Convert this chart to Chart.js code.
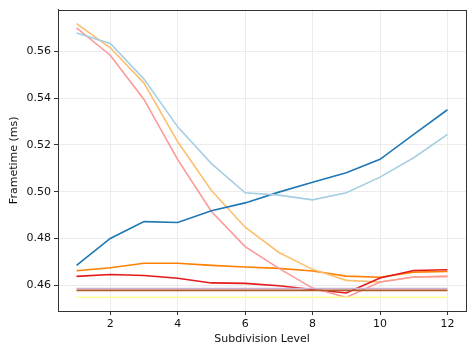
<!DOCTYPE html>
<html>
<head>
<meta charset="utf-8">
<script src="https://cdn.jsdelivr.net/npm/chart.js@4/dist/chart.umd.min.js"></script>
<style>
    html, body { margin: 0; padding: 0; background: #fff; }
    #wrap { width: 467px; height: 346px; }
</style>
</head>
<body>
<div id="wrap"><canvas id="frameChart"></canvas></div>
<script>
// ============= dados ======================================
const levels = [1, 2, 3, 4, 5, 6, 7, 8, 9, 10, 11, 12]
const xTicks = [2, 4, 6, 8, 10, 12]
const yTicks = [0.46, 0.48, 0.50, 0.52, 0.54, 0.56]

const lightBlue = [0.5678, 0.5633, 0.5481, 0.5277, 0.5120, 0.4995, 0.4985, 0.4965, 0.4995, 0.5062, 0.5145, 0.5245]
const blue = [0.4685, 0.4800, 0.4872, 0.4868, 0.4918, 0.4952, 0.4998, 0.5040, 0.5081, 0.5138, 0.5245, 0.5350]
const pink = [0.5700, 0.5583, 0.5394, 0.5137, 0.4915, 0.4765, 0.4672, 0.4588, 0.4548, 0.4614, 0.4635, 0.4638]
const red = [0.4638, 0.4646, 0.4642, 0.4630, 0.4610, 0.4608, 0.4598, 0.4582, 0.4567, 0.4631, 0.4663, 0.4666]
const lightOrange = [0.5718, 0.5615, 0.5464, 0.5213, 0.5005, 0.4848, 0.4740, 0.4668, 0.4621, 0.4614, 0.4635, 0.4638]
const orange = [0.4662, 0.4675, 0.4694, 0.4694, 0.4685, 0.4678, 0.4672, 0.4661, 0.4639, 0.4634, 0.4656, 0.4659]
const lavender = [0.4586, 0.4586, 0.4586, 0.4586, 0.4586, 0.4586, 0.4586, 0.4586, 0.4586, 0.4586, 0.4586, 0.4586]
const brown = [0.4578, 0.4578, 0.4578, 0.4578, 0.4578, 0.4578, 0.4578, 0.4578, 0.4578, 0.4578, 0.4578, 0.4578]
const yellow = [0.4549, 0.4549, 0.4549, 0.4549, 0.4549, 0.4549, 0.4549, 0.4549, 0.4549, 0.4549, 0.4549, 0.4549]

const series = [
    { data: yellow, color: '#ffff99' },
    { data: brown, color: '#b15928' },
    { data: lavender, color: '#cab2d6' },
    { data: lightBlue, color: '#a6cee3' },
    { data: blue, color: '#1f78b4' },
    { data: pink, color: '#fb9a99' },
    { data: red, color: '#e31a1c' },
    { data: lightOrange, color: '#fdbf6f' },
    { data: orange, color: '#ff7f00' }
]

const fontFamily = "'DejaVu Sans', sans-serif"

// moldura em volta da área do gráfico
const framePlugin = {
    id: 'frame',
    afterDraw(chart) {
        const a = chart.chartArea
        const ctx = chart.ctx
        ctx.save()
        ctx.strokeStyle = '#333'
        ctx.lineWidth = 1
        ctx.strokeRect(Math.round(a.left) + 0.5, Math.round(a.top) + 0.5,
            Math.round(a.right - a.left), Math.round(a.bottom - a.top))
        ctx.restore()
    }
}

document.addEventListener('DOMContentLoaded', function () {
    const ctx = document.getElementById('frameChart').getContext('2d')

    new Chart(ctx, {
        type: 'line',
        data: {
            datasets: series.map(s => ({
                data: levels.map((x, i) => ({ x: x, y: s.data[i] })),
                borderColor: s.color,
                borderWidth: 1.6,
                pointRadius: 0,
                fill: false,
                tension: 0
            }))
        },
        options: {
            responsive: true,
            maintainAspectRatio: false,
            animation: false,
            layout: { padding: { left: 0, right: 1, top: 5, bottom: 0 } },
            plugins: {
                legend: { display: false },
                tooltip: { enabled: false }
            },
            scales: {
                x: {
                    type: 'linear',
                    min: 0.45,
                    max: 12.55,
                    afterBuildTicks: scale => { scale.ticks = xTicks.map(v => ({ value: v })) },
                    afterFit: scale => { scale.height = 35 },
                    grid: { color: '#ececec', tickColor: '#333', tickLength: 4 },
                    border: { color: '#333' },
                    ticks: { color: '#111', font: { family: fontFamily, size: 11 }, padding: 3, maxRotation: 0 },
                    title: { display: true, text: 'Subdivision Level', color: '#111', font: { family: fontFamily, size: 11 }, padding: { top: 0, bottom: 0 } }
                },
                y: {
                    min: 0.449,
                    max: 0.5778,
                    afterBuildTicks: scale => { scale.ticks = yTicks.map(v => ({ value: v })) },
                    afterFit: scale => { scale.width = 58 },
                    grid: { color: '#ececec', tickColor: '#333', tickLength: 4 },
                    border: { color: '#333' },
                    ticks: {
                        color: '#111',
                        font: { family: fontFamily, size: 11 },
                        padding: 3,
                        callback: v => v.toFixed(2)
                    },
                    title: { display: true, text: 'Frametime (ms)', color: '#111', font: { family: fontFamily, size: 11 }, padding: { top: 8, bottom: 4 } }
                }
            }
        },
        plugins: [framePlugin]
    })
})
</script>
</body>
</html>
